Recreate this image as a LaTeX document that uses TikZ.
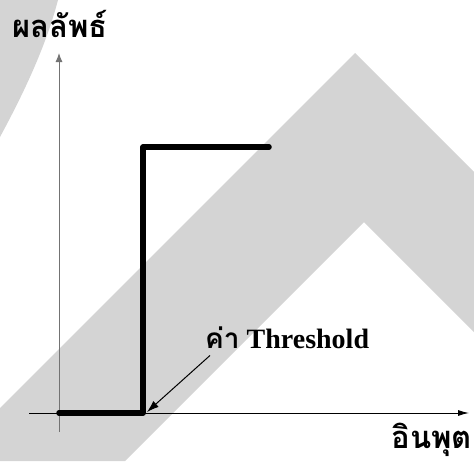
\documentclass[tikz,border=0pt]{standalone}
\usepackage{fontspec}
\setmainfont{Liberation Serif}
\newfontfamily\thaifont[Script=Thai]{Loma}
\usetikzlibrary{arrows.meta}
\definecolor{bandgray}{RGB}{212,212,212}
\begin{document}
\begin{tikzpicture}[x=1pt,y=-1pt,
  axlbl/.style={font=\thaifont\bfseries\fontsize{31}{35}\selectfont,inner sep=0pt},
  stepline/.style={line width=5.5pt,line cap=round,line join=round}]
\useasboundingbox (0,0) rectangle (474,461);
% background shapes
\fill[bandgray] (58,0) .. controls (45,50) and (20,100) .. (0,137) -- (0,0) -- cycle;
\fill[bandgray] (0,408) -- (355,53) -- (474,172) -- (474,332) -- (364,222) -- (125,461) -- (0,461) -- cycle;
% axes
\coordinate (o) at (59,413);
\coordinate (xl) at (29,413); \coordinate (xr) at (469,413);
\coordinate (yb) at (59,432); \coordinate (yt) at (59,53);
\draw[-{Latex[length=9pt,width=7pt]},black!55,line width=1pt] (yb) -- (yt);
\draw[-{Latex[length=11pt,width=6pt]},line width=.9pt] (xl) -- (xr);
% step response
\coordinate (thr) at (143,413);
\coordinate (top) at (269,147);
\draw[stepline] (o) -- (thr) |- (top);
\node[axlbl,anchor=base west] (ylbl) at (12,37) {ผลลัพธ์};
\node[axlbl,anchor=base east] (xlbl) at (472,448) {อินพุต};
\node[anchor=base west,inner sep=0pt,font=\bfseries\fontsize{28}{32}\selectfont] (lbl) at (205,348) {{\thaifont ค่า} Threshold};
\coordinate (tip) at (147,412);
\draw[-{Latex[length=12pt,width=8pt]},line width=1pt] ([xshift=5pt,yshift=-7pt]lbl.south west) -- (tip);
\end{tikzpicture}
\end{document}
